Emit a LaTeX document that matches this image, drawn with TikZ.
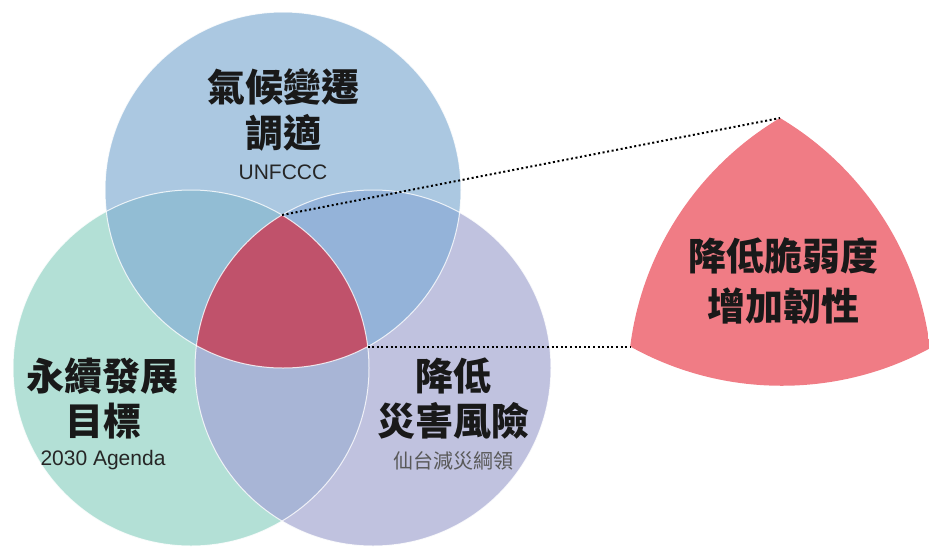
\documentclass[tikz,border=0pt]{standalone}
\usepackage{fontspec}
\setmainfont{Liberation Sans}
\newfontfamily\cjk{Noto Sans CJK TC}
\definecolor{climblue}{HTML}{ABC8E1}
\definecolor{sdggreen}{HTML}{B3E0D6}
\definecolor{drrpurple}{HTML}{C0C2DF}
\definecolor{climsdg}{HTML}{92BDD4}
\definecolor{climdrr}{HTML}{94B3D9}
\definecolor{sdgdrr}{HTML}{A8B5D6}
\definecolor{coremag}{HTML}{C0526B}
\definecolor{corepink}{HTML}{F07C85}
\begin{document}
\begin{tikzpicture}[x=1pt,y=-1pt,
  title/.style={font=\cjk\bfseries\fontsize{38}{42}\selectfont,text=black!90},
  sub/.style={font=\fontsize{21}{24}\selectfont,text=black!85},
  subcjk/.style={font=\cjk\fontsize{20}{24}\selectfont,text=black!65},
  link/.style={line width=2pt,dash pattern=on 2pt off 2.6pt}]
\useasboundingbox (0,0) rectangle (929,550);
\def\rad{178}

% centres
\coordinate (ctop) at (283,190);
\coordinate (cleft) at (191,368);
\coordinate (cright) at (373,368);

% circles
\fill[sdggreen] (cleft) circle[radius=\rad];
\fill[drrpurple] (cright) circle[radius=\rad];
\fill[climblue] (ctop) circle[radius=\rad];

% overlaps
\begin{scope}
\clip (ctop) circle[radius=\rad];
\fill[climsdg] (cleft) circle[radius=\rad];
\fill[climdrr] (cright) circle[radius=\rad];
\end{scope}
\begin{scope}
\clip (cleft) circle[radius=\rad];
\fill[sdgdrr] (cright) circle[radius=\rad];
\clip (cright) circle[radius=\rad];
\fill[coremag] (ctop) circle[radius=\rad];
\end{scope}

% outlines
\draw[white,line width=1pt,opacity=.8] (ctop) circle[radius=\rad];
\draw[white,line width=1pt,opacity=.8] (cleft) circle[radius=\rad];
\draw[white,line width=1pt,opacity=.8] (cright) circle[radius=\rad];

% enlarged core (same three circles, scaled about the top corner)
\begin{scope}[shift={(780,118)},scale=1.75,shift={(-282,-215)}]
\clip (191,368) circle[radius=\rad];
\clip (373,368) circle[radius=\rad];
\fill[corepink] (283,190) circle[radius=\rad];
\end{scope}

% links
\coordinate (coretop) at (282,215);
\coordinate (coreright) at (367.6,346.5);
\coordinate (bigtop) at (780,118);
\coordinate (bigleft) at (630,346.5);
\draw[link] (coretop) -- (bigtop);
\draw[link] (coreright) -- (bigleft);

% labels
\node[title] (clim1) at (283,87) {氣候變遷};
\node[title] (clim2) at (283,133) {調適};
\node[sub] (climsub) at (283,172) {UNFCCC};

\node[title] (sdg1) at (103,376) {永續發展};
\node[title] (sdg2) at (103,421) {目標};
\node[sub] (sdgsub) at (103,460) {2030 Agenda};

\node[title] (drr1) at (453,376) {降低};
\node[title] (drr2) at (453,421) {災害風險};
\node[subcjk] (drrsub) at (453,461) {仙台減災綱領};

\node[title] (core1) at (783,256) {降低脆弱度};
\node[title] (core2) at (783,306) {增加韌性};

\end{tikzpicture}
\end{document}
